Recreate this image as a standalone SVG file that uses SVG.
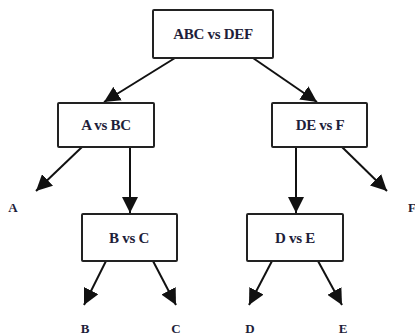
<svg xmlns="http://www.w3.org/2000/svg" width="415" height="335" viewBox="0 0 415 335">
<style>
.box{fill:#fff;stroke:#222;stroke-width:2}
.lbl{font-family:'Liberation Serif','DejaVu Serif',serif;font-weight:bold;font-size:15px;fill:#1e1e3a;text-anchor:middle;dominant-baseline:central;letter-spacing:-0.3px}
.leaf{font-family:'Liberation Serif','DejaVu Serif',serif;font-weight:bold;font-size:13px;fill:#1e1e3a;text-anchor:middle;dominant-baseline:central}
.edge{stroke:#111;stroke-width:2;fill:none;marker-end:url(#ah)}
</style>
<defs>
<marker id="ah" markerUnits="userSpaceOnUse" markerWidth="17" markerHeight="16" refX="16" refY="8" orient="auto">
<path d="M0,0 L16,8 L0,16 Z" fill="#111"/>
</marker>
</defs>
<g id="connectors">
<line class="edge" x1="175" y1="58" x2="104" y2="102"/>
<line class="edge" x1="253" y1="58" x2="317" y2="102"/>
<line class="edge" x1="82" y1="147" x2="36" y2="191"/>
<line class="edge" x1="130" y1="147" x2="130" y2="213"/>
<line class="edge" x1="296" y1="147" x2="296" y2="213"/>
<line class="edge" x1="342" y1="147" x2="387" y2="191"/>
<line class="edge" x1="106" y1="261" x2="84" y2="305"/>
<line class="edge" x1="153" y1="261" x2="176" y2="305"/>
<line class="edge" x1="272" y1="261" x2="249" y2="305"/>
<line class="edge" x1="318" y1="261" x2="342" y2="305"/>
</g>
<g id="n_abc_def"><rect class="box" x="153" y="10" width="120" height="48" rx="1"/><text class="lbl" x="213" y="34">ABC vs DEF</text></g>
<g id="n_a_bc"><rect class="box" x="58" y="103" width="96" height="44" rx="1"/><text class="lbl" x="106" y="125">A vs BC</text></g>
<g id="n_de_f"><rect class="box" x="272" y="103" width="95" height="44" rx="1"/><text class="lbl" x="320" y="125">DE vs F</text></g>
<g id="n_b_c"><rect class="box" x="82" y="214" width="95" height="47" rx="1"/><text class="lbl" x="129" y="238">B vs C</text></g>
<g id="n_d_e"><rect class="box" x="247" y="214" width="96" height="47" rx="1"/><text class="lbl" x="295" y="238">D vs E</text></g>
<g id="leaf_a"><text class="leaf" x="13" y="207">A</text></g>
<g id="leaf_f"><text class="leaf" x="412" y="207">F</text></g>
<g id="leaf_b"><text class="leaf" x="85" y="328">B</text></g>
<g id="leaf_c"><text class="leaf" x="176" y="328">C</text></g>
<g id="leaf_d"><text class="leaf" x="250" y="328">D</text></g>
<g id="leaf_e"><text class="leaf" x="343" y="328">E</text></g>
</svg>
